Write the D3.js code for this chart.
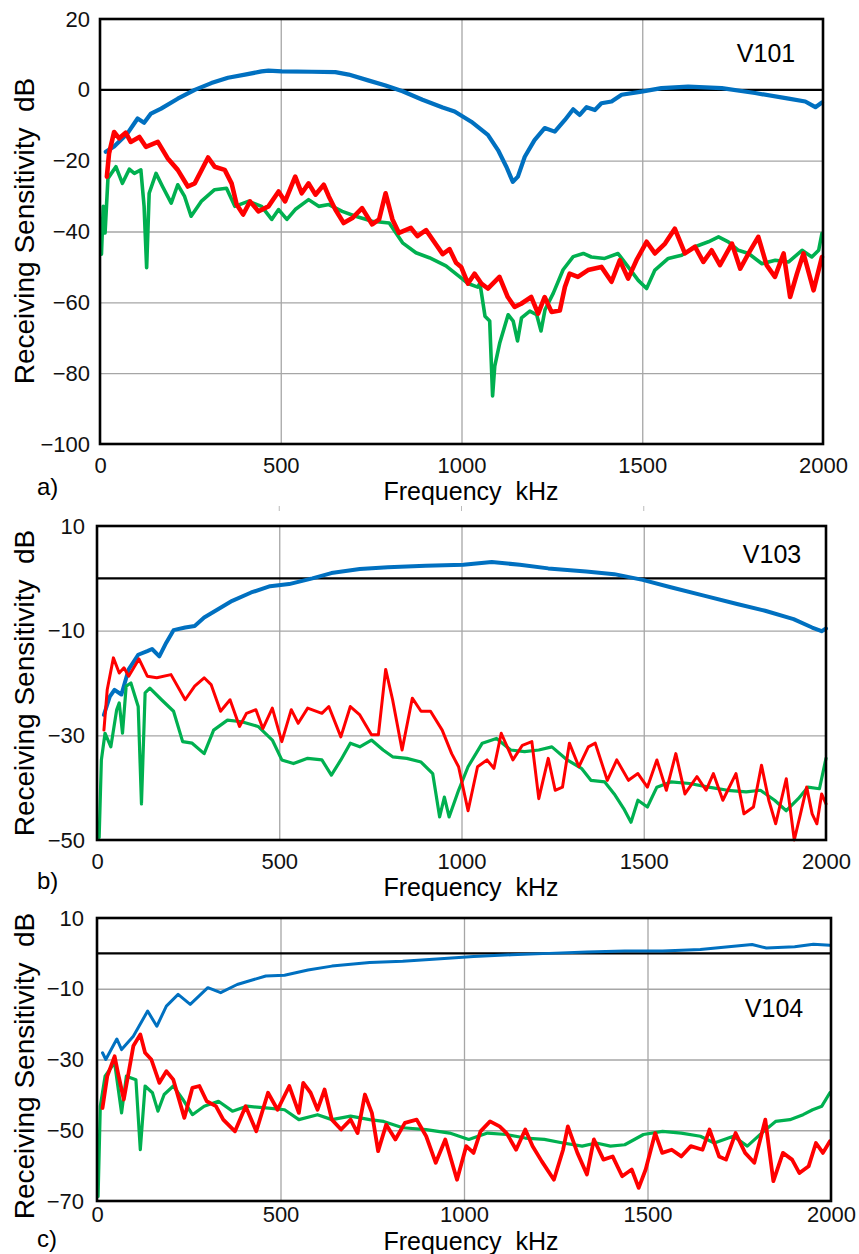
<!DOCTYPE html>
<html lang="en">
<head>
<meta charset="utf-8"/>
<style>
  body { margin: 0; background-color: #FFFFFF; }
  .grid line { stroke: #a6a6a6; stroke-width: 1.3; }
  .grid path { display: none; }
  .ticks text { fill: #111; }
</style>
</head>
<body>
<svg id="chart" width="859" height="1254"></svg>

<script src="https://d3js.org/d3.v7.min.js"></script>
<script>
// ---- data: [frequency kHz, sensitivity dB] ----
let freqTicks = [0, 500, 1000, 1500, 2000]
let freqGrid = [500, 1000, 1500]

let ticksA = [20, 0, -20, -40, -60, -80, -100]
let gridA = [-20, -40, -60, -80]
let ticksB = [10, -10, -30, -50]
let gridB = [-10, -30]
let ticksC = [10, -10, -30, -50, -70]
let gridC = [-10, -30, -50]

// V101
let blueA = [[16,-17.5],[39,-16],[76,-12.3],[104,-8.1],[122,-9.3],[141,-6.7],[169,-5.3],[215,-2.5],[262,0],[308,1.9],[354,3.4],[401,4.3],[447,5.2],[466,5.4],[503,5.2],[586,5.1],[651,5],[688,4.3],[744,2.6],[790,1.2],[837,-0.4],[892,-2.8],[948,-5],[981,-6.1],[1027,-9],[1073,-12.7],[1101,-17],[1124,-21.7],[1142,-26],[1156,-24.5],[1175,-18.9],[1202,-14.2],[1230,-10.8],[1258,-11.8],[1286,-8.5],[1309,-5.5],[1327,-7.1],[1346,-4.9],[1369,-5.7],[1387,-3.8],[1415,-3.3],[1443,-1.4],[1498,-0.5],[1553,0.5],[1627,0.9],[1720,0.5],[1812,-0.9],[1905,-2.5],[1951,-3.3],[1979,-4.9],[1997,-3.6]]
let redA = [[19,-24.5],[25,-18],[39,-11.9],[53,-13.7],[71,-12.1],[85,-14.7],[109,-13.3],[127,-16.1],[160,-14.7],[187,-19.3],[215,-22.6],[243,-27.3],[262,-26.4],[299,-19.1],[317,-21.7],[345,-22.6],[364,-26.4],[378,-32.4],[396,-35.2],[415,-31.5],[438,-34.3],[466,-32.9],[494,-28.7],[512,-31.5],[540,-24.5],[558,-29.2],[577,-26.4],[596,-29.6],[619,-26.8],[633,-30.1],[651,-33.8],[674,-37.6],[698,-36.2],[725,-33.4],[753,-38],[772,-36.6],[790,-29.2],[809,-36.6],[827,-40.4],[860,-39],[878,-41.3],[902,-39.6],[929,-43.6],[948,-46.4],[967,-45],[985,-48.8],[999,-50],[1018,-54.7],[1036,-51.9],[1055,-54.7],[1073,-56.1],[1105,-52.8],[1128,-58.5],[1147,-61.3],[1165,-60.4],[1193,-58.5],[1212,-63.2],[1230,-58.5],[1249,-62.7],[1272,-62.3],[1286,-55.7],[1299,-51.9],[1322,-52.8],[1350,-50.9],[1387,-50],[1415,-54.2],[1438,-48.1],[1461,-53.3],[1484,-48.1],[1512,-42.9],[1535,-46.2],[1563,-43.4],[1590,-39.2],[1618,-46.2],[1646,-44.3],[1669,-48.6],[1692,-45.3],[1715,-49.5],[1748,-43.4],[1771,-50.5],[1794,-46.2],[1821,-41.5],[1844,-49.5],[1867,-52.8],[1891,-46.2],[1909,-58.5],[1928,-51.9],[1946,-46.2],[1974,-56.6],[1997,-47.2]]
let greenA = [[4,-46.4],[9,-32.9],[14,-40.4],[22,-25],[44,-21.7],[62,-26.4],[81,-22.4],[95,-23.6],[113,-22.6],[122,-32.9],[129,-50.2],[136,-29.2],[155,-23.6],[173,-27.3],[197,-32],[215,-26.8],[234,-30.1],[252,-35.7],[280,-31.5],[317,-28.2],[350,-27.8],[373,-32.9],[410,-31.5],[447,-32.9],[475,-36.6],[494,-33.8],[517,-36.6],[540,-33.8],[577,-31],[605,-32.9],[633,-32.4],[670,-34.3],[707,-35.7],[753,-37.1],[800,-37.6],[837,-43.2],[874,-46],[911,-47.4],[957,-49.7],[1004,-53.5],[1018,-54.7],[1045,-55.7],[1051,-54.6],[1065,-63.9],[1078,-65.3],[1086,-86.4],[1092,-78],[1106,-71.4],[1129,-63.5],[1143,-65.3],[1155,-70.9],[1166,-64.4],[1189,-62.5],[1208,-63.5],[1220,-68.1],[1231,-62.1],[1254,-57.4],[1281,-50.8],[1309,-47.1],[1337,-46.2],[1359,-47.2],[1396,-47.6],[1433,-46.2],[1461,-50],[1489,-53.8],[1512,-56.1],[1535,-50.9],[1572,-47.6],[1609,-46.7],[1646,-44.3],[1683,-42.9],[1711,-41.5],[1738,-42.9],[1766,-45.3],[1794,-46.2],[1831,-49.1],[1868,-48.1],[1905,-48.6],[1942,-45.3],[1969,-47.2],[1988,-45.3],[1997,-40.6]]

// V103
let blueB = [[19,-26.1],[35,-22.6],[48,-21.3],[67,-22.2],[87,-17.4],[113,-14.6],[138,-13.9],[151,-13.5],[171,-14.9],[190,-12.3],[210,-9.9],[242,-9.4],[268,-9.1],[294,-7.5],[332,-5.9],[371,-4.3],[423,-2.7],[475,-1.5],[527,-1.1],[591,0],[643,1],[721,1.8],[798,2.1],[902,2.4],[1005,2.6],[1083,3.1],[1160,2.6],[1238,1.9],[1342,1.3],[1419,0.8],[1497,-0.3],[1574,-1.7],[1665,-3.3],[1756,-4.9],[1833,-6.2],[1911,-7.8],[1962,-9.4],[1988,-10.1],[2000,-9.6]]
let redB = [[19,-29],[28,-21.3],[45,-15.2],[61,-18.1],[74,-17.1],[87,-18.7],[115,-15.4],[138,-18.7],[164,-19],[203,-18.4],[242,-23.2],[268,-20.6],[294,-19],[313,-20.3],[339,-25.4],[365,-23.2],[391,-28.3],[410,-25.8],[436,-25.1],[455,-28.7],[481,-24.8],[507,-31.2],[533,-25.1],[552,-27.7],[578,-24.8],[617,-25.8],[636,-24.5],[669,-30.3],[695,-24.5],[721,-26.1],[753,-29.9],[772,-29.9],[792,-17.4],[811,-23.2],[837,-32.8],[865,-22.9],[889,-25.4],[915,-25.4],[947,-29],[973,-33.5],[992,-36],[1018,-44.4],[1044,-36],[1070,-34.7],[1089,-36.3],[1109,-29.6],[1141,-34.7],[1167,-31.9],[1193,-31.2],[1212,-42.1],[1238,-34.4],[1257,-40.5],[1277,-39.9],[1296,-31.5],[1322,-36],[1348,-32.2],[1367,-31.5],[1400,-38.6],[1426,-34.7],[1458,-38.6],[1484,-37.3],[1510,-39.9],[1536,-34.7],[1562,-40.5],[1588,-33.5],[1613,-41.2],[1646,-37.9],[1671,-40.5],[1691,-37.3],[1717,-42.4],[1753,-37.3],[1775,-45],[1801,-43.7],[1823,-35.7],[1843,-42.4],[1862,-46.9],[1891,-38.3],[1913,-50],[1930,-45],[1947,-39.9],[1962,-45],[1975,-46.9],[1988,-41.2],[2000,-43.1]]
let greenB = [[6,-49.5],[12,-34.7],[22,-29.6],[38,-32.2],[54,-25.1],[61,-23.8],[70,-29.6],[80,-20.6],[93,-20],[113,-24.5],[122,-43.1],[132,-21.9],[145,-21],[177,-23.2],[210,-25.4],[235,-31.2],[261,-31.5],[294,-33.5],[320,-29],[358,-27.1],[397,-27.4],[442,-28.3],[481,-30.9],[507,-34.7],[539,-35.4],[578,-34.4],[617,-34.7],[643,-37.6],[669,-34.7],[695,-31.5],[721,-32.2],[753,-30.9],[785,-32.8],[811,-34.1],[850,-34.4],[889,-35.1],[921,-37.3],[940,-45.6],[953,-41.8],[966,-45.6],[992,-40.5],[1018,-36],[1057,-31.5],[1096,-30.6],[1135,-32.8],[1173,-33.1],[1212,-32.8],[1248,-32.2],[1290,-34.7],[1329,-36.3],[1355,-38.6],[1393,-38.9],[1419,-41.2],[1445,-44],[1465,-46.6],[1484,-42.4],[1510,-43.7],[1536,-39.9],[1574,-38.9],[1626,-39.2],[1678,-39.9],[1730,-40.5],[1781,-40.8],[1820,-40.5],[1859,-42.4],[1891,-44.4],[1924,-42.1],[1950,-39.9],[1982,-40.2],[2000,-34.4]]

// V104
let blueC = [[15,-28.1],[24,-30],[54,-24.2],[67,-27.2],[99,-23.4],[138,-16.3],[163,-20.6],[189,-14.9],[221,-11.6],[254,-14.4],[302,-9.7],[337,-11.1],[382,-8.8],[460,-6.4],[511,-6.2],[575,-4.7],[640,-3.6],[743,-2.6],[833,-2.2],[936,-1.5],[1026,-0.9],[1129,-0.4],[1232,0],[1335,0.4],[1438,0.7],[1541,0.7],[1644,1.1],[1721,1.9],[1785,2.5],[1824,1.5],[1901,1.9],[1952,2.6],[1997,2.3]]
let redC = [[15,-43.7],[28,-34.7],[48,-29.1],[58,-34.2],[73,-41.3],[99,-26.2],[118,-22.9],[131,-28.1],[148,-30],[170,-36.6],[189,-33.3],[208,-35.7],[238,-46.5],[260,-38],[279,-37.5],[299,-41.8],[324,-43.2],[344,-47],[376,-50.3],[405,-43.2],[434,-50.3],[466,-39.4],[492,-44.2],[524,-37.5],[550,-45.1],[562,-36.6],[582,-39.4],[601,-44.2],[620,-38.5],[640,-47],[665,-49.8],[691,-47],[710,-50.8],[730,-39.9],[749,-45.1],[766,-55.9],[788,-48.4],[813,-52.6],[839,-47.9],[871,-47],[897,-51.7],[923,-59.2],[949,-52.6],[981,-64],[1006,-54.5],[1026,-56.4],[1045,-50.3],[1071,-47.5],[1097,-48.9],[1116,-50.8],[1142,-55.5],[1167,-49.8],[1187,-54.5],[1212,-58.8],[1245,-64],[1270,-55.5],[1283,-48.9],[1309,-56.4],[1335,-62.5],[1354,-52.6],[1380,-58.3],[1405,-57.4],[1431,-63],[1457,-61.1],[1476,-66.3],[1495,-61.1],[1521,-50.8],[1540,-56.4],[1566,-55.5],[1592,-57.4],[1618,-54.5],[1650,-55.5],[1669,-49.8],[1695,-57.4],[1714,-58.3],[1740,-50.8],[1766,-56.4],[1791,-59.2],[1821,-47],[1843,-64.4],[1869,-56.4],[1894,-58.3],[1914,-62.1],[1939,-60.2],[1959,-53.6],[1978,-56.4],[1997,-53.1]]
let greenC = [[3,-68.7],[9,-43.2],[22,-34.7],[48,-30.9],[67,-45.1],[80,-34.7],[106,-35.7],[118,-55.5],[131,-37.5],[151,-39.4],[166,-44.6],[183,-39.9],[208,-37.5],[234,-41.3],[260,-45.6],[292,-43.2],[331,-41.8],[369,-44.6],[408,-43.2],[460,-43.7],[511,-44.2],[550,-47],[601,-45.6],[640,-47],[691,-46],[743,-47],[781,-47.5],[833,-49.3],[897,-49.8],[961,-50.8],[1013,-52.6],[1064,-50.8],[1116,-51.2],[1167,-52.2],[1219,-52.6],[1270,-53.6],[1322,-54.5],[1360,-53.6],[1399,-54.5],[1438,-54.1],[1489,-51.2],[1541,-50.3],[1592,-50.8],[1644,-51.7],[1682,-53.6],[1734,-51.7],[1772,-54.5],[1811,-50.8],[1849,-47.5],[1888,-47],[1924,-45.6],[1950,-44.2],[1975,-43.2],[1997,-39.4]]

let BLUE = "#0070C0", RED = "#FF0000", GREEN = "#00B050"
let FONT = "'Liberation Sans', Arial, sans-serif"

let panels = [
  { left: 100, right: 823, top: 19, bottom: 444, yDomain: [-100, 20], yTicks: ticksA, grid: gridA,
    xPad: 13, yPad: 10, name: "V101", nameX: 766, nameY: 62, tag: "a)", tagY: 495, titleY: 500, yTitleY: 231,
    series: [ {data: blueA, color: BLUE, width: 4.2}, {data: greenA, color: GREEN, width: 3.6}, {data: redA, color: RED, width: 4.6} ] },
  { left: 97, right: 826, top: 526, bottom: 840, yDomain: [-50, 10], yTicks: ticksB, grid: gridB,
    xPad: 13, yPad: 12, name: "V103", nameX: 772, nameY: 563, tag: "b)", tagY: 889, titleY: 896, yTitleY: 683,
    series: [ {data: blueB, color: BLUE, width: 4}, {data: greenB, color: GREEN, width: 3.2}, {data: redB, color: RED, width: 3} ] },
  { left: 97, right: 831, top: 918, bottom: 1201, yDomain: [-70, 10], yTicks: ticksC, grid: gridC,
    xPad: 5, yPad: 13, name: "V104", nameX: 774, nameY: 1017, tag: "c)", tagY: 1247, titleY: 1250, yTitleY: 1066,
    series: [ {data: blueC, color: BLUE, width: 3}, {data: greenC, color: GREEN, width: 3.2}, {data: redC, color: RED, width: 3.8} ] }
]

let svg = d3.select("#chart")

function drawPanel(p, i) {
  let x = d3.scaleLinear().domain([0, 2000]).range([p.left, p.right])
  let y = d3.scaleLinear().domain(p.yDomain).range([p.bottom, p.top])
  let g = svg.append("g")

  // grid lines
  g.append("g").attr("class", "grid")
    .attr("transform", "translate(0," + p.bottom + ")")
    .call(d3.axisBottom(x).tickValues(freqGrid).tickSize(-(p.bottom - p.top)).tickFormat(""))
  g.append("g").attr("class", "grid")
    .attr("transform", "translate(" + p.left + ",0)")
    .call(d3.axisLeft(y).tickValues(p.grid).tickSize(-(p.right - p.left)).tickFormat(""))

  // 0 dB reference line
  g.append("line")
    .attr("x1", p.left).attr("x2", p.right)
    .attr("y1", y(0)).attr("y2", y(0))
    .attr("stroke", "#000").attr("stroke-width", 2.3)

  let line = d3.line().x(d => x(d[0])).y(d => y(d[1]))
  p.series.forEach(s => {
    g.append("path").datum(s.data)
      .attr("d", line)
      .attr("fill", "none")
      .attr("stroke", s.color)
      .attr("stroke-width", s.width)
      .attr("stroke-linejoin", "round")
      .attr("stroke-linecap", "round")
  })

  // frame
  g.append("rect")
    .attr("x", p.left).attr("y", p.top)
    .attr("width", p.right - p.left).attr("height", p.bottom - p.top)
    .attr("fill", "none").attr("stroke", "#000").attr("stroke-width", 2.6)

  // tick labels
  let xa = g.append("g").attr("class", "ticks")
    .attr("transform", "translate(0," + p.bottom + ")")
    .call(d3.axisBottom(x).tickValues(freqTicks).tickSize(0).tickPadding(p.xPad).tickFormat(d3.format("d")))
  xa.select(".domain").remove()
  xa.attr("font-size", 22).attr("font-family", FONT)

  let ya = g.append("g").attr("class", "ticks")
    .attr("transform", "translate(" + p.left + ",0)")
    .call(d3.axisLeft(y).tickValues(p.yTicks).tickSize(0).tickPadding(p.yPad).tickFormat(d3.format("d")))
  ya.select(".domain").remove()
  ya.attr("font-size", 22).attr("font-family", FONT)

  // titles
  g.append("text")
    .attr("x", 471).attr("y", p.titleY)
    .attr("text-anchor", "middle")
    .style("font-family", FONT).style("font-size", "25px")
    .style("white-space", "pre")
    .text("Frequency  kHz")

  g.append("text")
    .attr("transform", "translate(34," + p.yTitleY + ") rotate(-90)")
    .attr("text-anchor", "middle")
    .style("font-family", FONT).style("font-size", "28px")
    .style("white-space", "pre")
    .text("Receiving Sensitivity  dB")

  g.append("text")
    .attr("x", p.nameX).attr("y", p.nameY)
    .attr("text-anchor", "middle")
    .style("font-family", FONT).style("font-size", "25px")
    .text(p.name)

  g.append("text")
    .attr("x", 37).attr("y", p.tagY)
    .style("font-family", FONT).style("font-size", "24px")
    .text(p.tag)

  // faint stray tick marks visible above panel b
  if (i === 1) {
    g.selectAll(".stray").data(freqGrid).enter().append("line")
      .attr("class", "stray")
      .attr("x1", d => x(d)).attr("x2", d => x(d))
      .attr("y1", 506).attr("y2", 511)
      .attr("stroke", "#bbb").attr("stroke-width", 1)
  }
}

panels.forEach(drawPanel)
</script>
</body>
</html>
